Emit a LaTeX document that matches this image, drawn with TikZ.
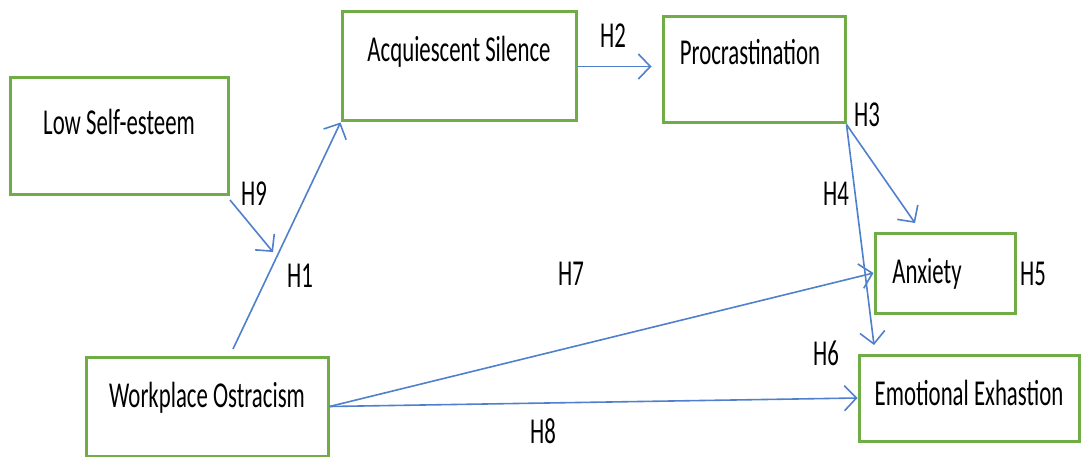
\documentclass[tikz,border=0pt]{standalone}
\usepackage{fontspec}
\setmainfont{Carlito}
\usepackage{graphicx}
\usetikzlibrary{arrows.meta}
\definecolor{boxgreen}{HTML}{70AD47}
\definecolor{linkblue}{HTML}{5080CC}
% tall, narrow lettering
\newcommand{\tallt}[1]{\scalebox{1}[1.6]{#1}}
\begin{document}
\begin{tikzpicture}[x=1pt,y=-1pt,
  varbox/.style={draw=boxgreen,line width=3pt,rectangle,inner sep=0pt,fill=none},
  lbl/.style={anchor=base,inner sep=0pt,font=\fontsize{22.8}{27}\selectfont},
  link/.style={draw=linkblue,line width=1.6pt,
    -{Straight Barb[length=12pt,width=25pt,line width=1.6pt]}}]
\useasboundingbox (0,0) rectangle (1081,457);

% construct boxes
\node[varbox,minimum width=218pt,minimum height=117pt] (lse) at (119,136.5) {};
\node[varbox,minimum width=234pt,minimum height=109pt] (acq) at (459,66.5) {};
\node[varbox,minimum width=182pt,minimum height=106pt] (pro) at (754,70) {};
\node[varbox,minimum width=140pt,minimum height=80pt] (anx) at (945,273) {};
\node[varbox,minimum width=220pt,minimum height=86pt] (emo) at (969,398) {};
\node[varbox,minimum width=242pt,minimum height=99pt] (wo) at (207,406.5) {};

% box titles
\node[lbl] (tlse) at (119,135) {\tallt{Low Self-esteem}};
\node[lbl] (tacq) at (459,62) {\tallt{Acquiescent Silence}};
\node[lbl] (tpro) at (750,65) {\tallt{Procrastination}};
\node[lbl] (tanx) at (927,283) {\tallt{Anxiety}};
\node[lbl] (temo) at (969,405) {\tallt{Emotional Exhastion}};
\node[lbl] (two) at (207,407) {\tallt{Workplace Ostracism}};

% free ends of some paths
\coordinate (h9s) at (230,200);
\coordinate (h9e) at (273,252);
\coordinate (h1s) at (233,349);
\coordinate (h3e) at (915,223);
\coordinate (h4e) at (874,345);

% paths
\draw[link] (h9s) -- (h9e);
\draw[link] (h1s) -- (acq.south west);
\draw[link,shorten >=10pt] (acq.east) -- (acq.east -| pro.west);
\draw[link] (pro.south east) -- (h3e);
\draw[link] (pro.south east) -- (h4e);
\draw[link] (wo.east) -- (anx.west);
\draw[link] (wo.east) -- (emo.west);

% hypothesis labels
\node[lbl] (l9) at (254,205) {\tallt{H9}};
\node[lbl] (l1) at (300,287) {\tallt{H1}};
\node[lbl] (l2) at (613,48) {\tallt{H2}};
\node[lbl] (l3) at (867,127) {\tallt{H3}};
\node[lbl] (l4) at (836,205) {\tallt{H4}};
\node[lbl] (l5) at (1033,285) {\tallt{H5}};
\node[lbl] (l6) at (826,365) {\tallt{H6}};
\node[lbl] (l7) at (571,285) {\tallt{H7}};
\node[lbl] (l8) at (543,443) {\tallt{H8}};
\end{tikzpicture}
\end{document}
